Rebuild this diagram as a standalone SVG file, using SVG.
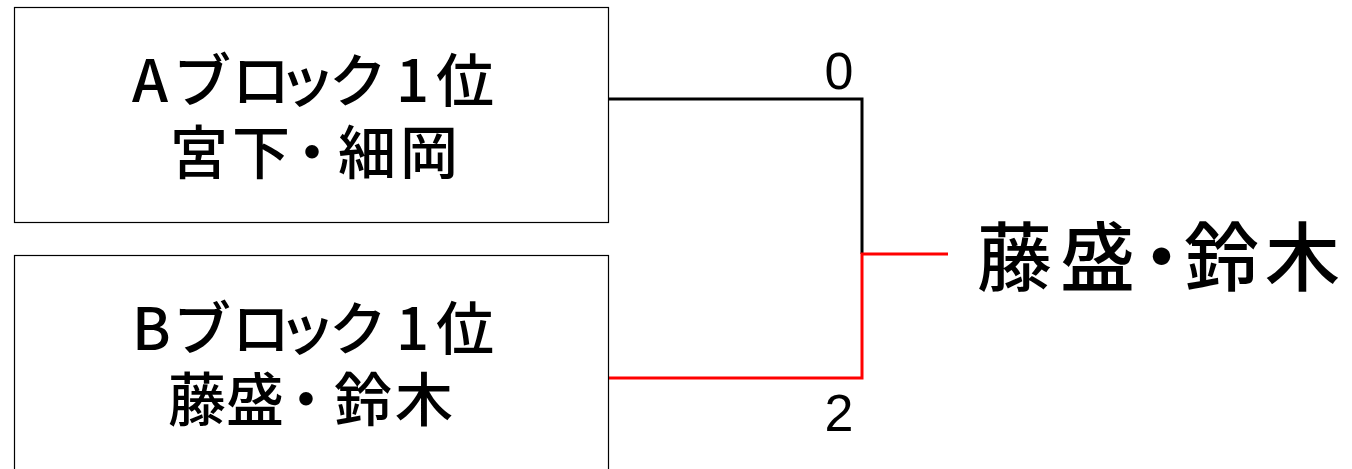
<svg xmlns="http://www.w3.org/2000/svg" width="1352" height="469" viewBox="0 0 1352 469">
<style>
.box{fill:#fff;stroke:#000;stroke-width:1.2}
.t{font-family:"Noto Sans CJK JP","Liberation Sans",sans-serif;fill:#000;font-weight:500}
.n{font-size:58px}
.s{font-family:"Liberation Sans",sans-serif;font-size:52px;fill:#000;text-anchor:middle}
.blk{fill:none;stroke:#000;stroke-width:3}
.red{fill:none;stroke:#f00;stroke-width:3}
</style>
<rect width="1352" height="469" fill="#fff"/>
<g id="connectors">
<polyline class="blk" points="608,99 862,99 862,254"/>
<polyline class="red" points="608,378 862,378 862,254 948,254"/>
</g>
<g id="nodeA">
<rect class="box" x="14.5" y="7.5" width="594" height="215"/>
<text class="t n" x="132 173 232 278 329 396 436" y="102">Aブロック1位</text>
<text class="t n" x="170 232 283 338 400" y="174">宮下・細岡</text>
</g>
<g id="nodeB">
<rect class="box" x="14.5" y="255.5" width="594" height="230"/>
<text class="t n" x="132 173 232 278 329 396 436" y="350">Bブロック1位</text>
<text class="t n" x="168 226 277 334 395" y="421">藤盛・鈴木</text>
</g>
<g id="score0"><text class="s" x="839" y="89">0</text></g>
<g id="score2"><text class="s" x="839" y="431">2</text></g>
<g id="winner">
<text class="t" font-size="75" x="977 1060 1124 1184 1265" y="285">藤盛・鈴木</text>
</g>
</svg>
